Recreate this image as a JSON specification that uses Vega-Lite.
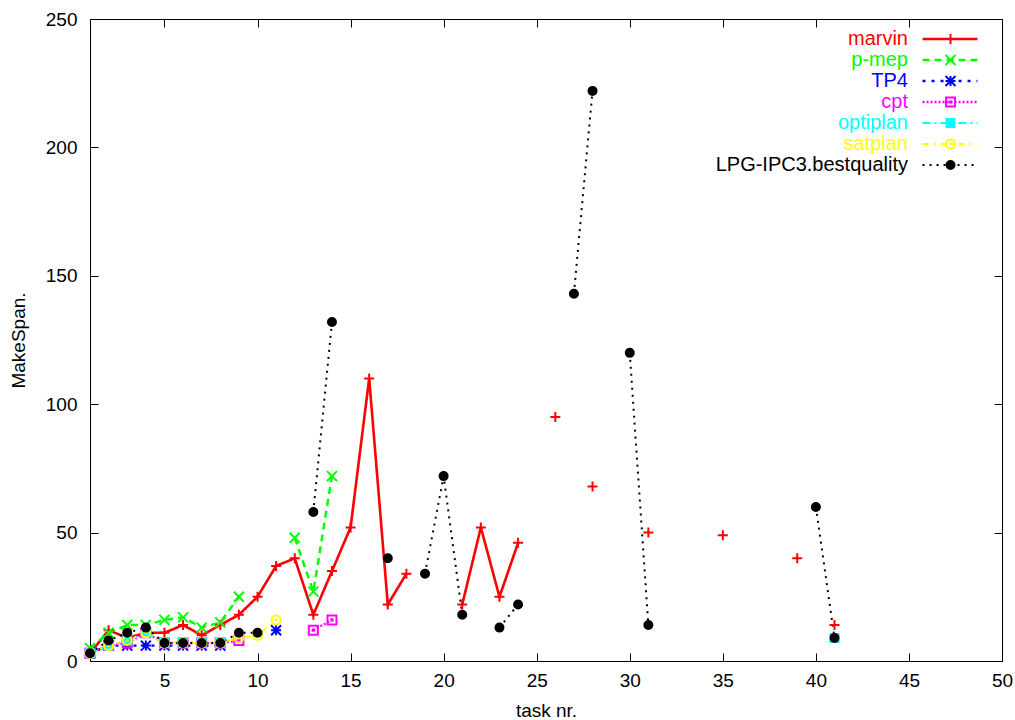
{
  "$schema": "https://vega.github.io/schema/vega-lite/v6.json",
  "width": 912,
  "height": 642,
  "autosize": "none",
  "padding": {"left": 90, "top": 19, "right": 13, "bottom": 59},
  "background": "white",
  "config": {
    "font": "Liberation Sans",
    "view": {"stroke": "black", "strokeWidth": 1},
    "mark": {"invalid": "break-paths-filter-domains"},
    "axis": {"domain": false, "grid": false, "tickColor": "black", "tickSize": -8, "tickWidth": 1,
      "labelFont": "Liberation Sans", "labelFontSize": 19, "labelColor": "black",
      "titleFont": "Liberation Sans", "titleFontSize": 19, "titleFontWeight": "normal", "titleColor": "black"},
    "legend": {"labelFont": "Liberation Sans", "labelFontSize": 20, "labelLimit": 400}
  },
  "data": {"values": [
    {"task": 1, "planner": "marvin", "makespan": 3},
    {"task": 2, "planner": "marvin", "makespan": 12},
    {"task": 3, "planner": "marvin", "makespan": 9},
    {"task": 4, "planner": "marvin", "makespan": 11},
    {"task": 5, "planner": "marvin", "makespan": 11},
    {"task": 6, "planner": "marvin", "makespan": 14},
    {"task": 7, "planner": "marvin", "makespan": 10},
    {"task": 8, "planner": "marvin", "makespan": 14},
    {"task": 9, "planner": "marvin", "makespan": 18},
    {"task": 10, "planner": "marvin", "makespan": 25},
    {"task": 11, "planner": "marvin", "makespan": 37},
    {"task": 12, "planner": "marvin", "makespan": 40},
    {"task": 13, "planner": "marvin", "makespan": 18},
    {"task": 14, "planner": "marvin", "makespan": 35},
    {"task": 15, "planner": "marvin", "makespan": 52},
    {"task": 16, "planner": "marvin", "makespan": 110},
    {"task": 17, "planner": "marvin", "makespan": 22},
    {"task": 18, "planner": "marvin", "makespan": 34},
    {"task": 19, "planner": "marvin", "makespan": null},
    {"task": 21, "planner": "marvin", "makespan": 22},
    {"task": 22, "planner": "marvin", "makespan": 52},
    {"task": 23, "planner": "marvin", "makespan": 25},
    {"task": 24, "planner": "marvin", "makespan": 46},
    {"task": 25, "planner": "marvin", "makespan": null},
    {"task": 26, "planner": "marvin", "makespan": 95},
    {"task": 27, "planner": "marvin", "makespan": null},
    {"task": 28, "planner": "marvin", "makespan": 68},
    {"task": 29, "planner": "marvin", "makespan": null},
    {"task": 31, "planner": "marvin", "makespan": 50},
    {"task": 32, "planner": "marvin", "makespan": null},
    {"task": 35, "planner": "marvin", "makespan": 49},
    {"task": 36, "planner": "marvin", "makespan": null},
    {"task": 39, "planner": "marvin", "makespan": 40},
    {"task": 40, "planner": "marvin", "makespan": null},
    {"task": 41, "planner": "marvin", "makespan": 14},
    {"task": 1, "planner": "p-mep", "makespan": 5},
    {"task": 2, "planner": "p-mep", "makespan": 11},
    {"task": 3, "planner": "p-mep", "makespan": 14},
    {"task": 4, "planner": "p-mep", "makespan": 14},
    {"task": 5, "planner": "p-mep", "makespan": 16},
    {"task": 6, "planner": "p-mep", "makespan": 17},
    {"task": 7, "planner": "p-mep", "makespan": 13},
    {"task": 8, "planner": "p-mep", "makespan": 15},
    {"task": 9, "planner": "p-mep", "makespan": 25},
    {"task": 10, "planner": "p-mep", "makespan": null},
    {"task": 12, "planner": "p-mep", "makespan": 48},
    {"task": 13, "planner": "p-mep", "makespan": 27},
    {"task": 14, "planner": "p-mep", "makespan": 72},
    {"task": 1, "planner": "TP4", "makespan": 3},
    {"task": 2, "planner": "TP4", "makespan": 6},
    {"task": 3, "planner": "TP4", "makespan": 6},
    {"task": 4, "planner": "TP4", "makespan": 6},
    {"task": 5, "planner": "TP4", "makespan": 6},
    {"task": 6, "planner": "TP4", "makespan": 6},
    {"task": 7, "planner": "TP4", "makespan": 6},
    {"task": 8, "planner": "TP4", "makespan": 6},
    {"task": 9, "planner": "TP4", "makespan": null},
    {"task": 11, "planner": "TP4", "makespan": 12},
    {"task": 1, "planner": "cpt", "makespan": 3},
    {"task": 2, "planner": "cpt", "makespan": 6},
    {"task": 3, "planner": "cpt", "makespan": 7},
    {"task": 4, "planner": "cpt", "makespan": 11},
    {"task": 5, "planner": "cpt", "makespan": 7},
    {"task": 6, "planner": "cpt", "makespan": 7},
    {"task": 7, "planner": "cpt", "makespan": 7},
    {"task": 8, "planner": "cpt", "makespan": 7},
    {"task": 9, "planner": "cpt", "makespan": 8},
    {"task": 10, "planner": "cpt", "makespan": null},
    {"task": 13, "planner": "cpt", "makespan": 12},
    {"task": 14, "planner": "cpt", "makespan": 16},
    {"task": 1, "planner": "optiplan", "makespan": 3},
    {"task": 2, "planner": "optiplan", "makespan": 6},
    {"task": 3, "planner": "optiplan", "makespan": 8},
    {"task": 4, "planner": "optiplan", "makespan": 11},
    {"task": 5, "planner": "optiplan", "makespan": 7},
    {"task": 6, "planner": "optiplan", "makespan": 7},
    {"task": 7, "planner": "optiplan", "makespan": 7},
    {"task": 8, "planner": "optiplan", "makespan": 7},
    {"task": 9, "planner": "optiplan", "makespan": null},
    {"task": 41, "planner": "optiplan", "makespan": 9},
    {"task": 1, "planner": "satplan", "makespan": 3},
    {"task": 2, "planner": "satplan", "makespan": 6},
    {"task": 3, "planner": "satplan", "makespan": 8},
    {"task": 4, "planner": "satplan", "makespan": 11},
    {"task": 5, "planner": "satplan", "makespan": 7},
    {"task": 6, "planner": "satplan", "makespan": 7},
    {"task": 7, "planner": "satplan", "makespan": 7},
    {"task": 8, "planner": "satplan", "makespan": 7},
    {"task": 9, "planner": "satplan", "makespan": 9},
    {"task": 10, "planner": "satplan", "makespan": 10},
    {"task": 11, "planner": "satplan", "makespan": 16},
    {"task": 1, "planner": "LPG-IPC3.bestquality", "makespan": 3},
    {"task": 2, "planner": "LPG-IPC3.bestquality", "makespan": 8},
    {"task": 3, "planner": "LPG-IPC3.bestquality", "makespan": 11},
    {"task": 4, "planner": "LPG-IPC3.bestquality", "makespan": 13},
    {"task": 5, "planner": "LPG-IPC3.bestquality", "makespan": 7},
    {"task": 6, "planner": "LPG-IPC3.bestquality", "makespan": 7},
    {"task": 7, "planner": "LPG-IPC3.bestquality", "makespan": 7},
    {"task": 8, "planner": "LPG-IPC3.bestquality", "makespan": 7},
    {"task": 9, "planner": "LPG-IPC3.bestquality", "makespan": 11},
    {"task": 10, "planner": "LPG-IPC3.bestquality", "makespan": 11},
    {"task": 11, "planner": "LPG-IPC3.bestquality", "makespan": null},
    {"task": 13, "planner": "LPG-IPC3.bestquality", "makespan": 58},
    {"task": 14, "planner": "LPG-IPC3.bestquality", "makespan": 132},
    {"task": 15, "planner": "LPG-IPC3.bestquality", "makespan": null},
    {"task": 17, "planner": "LPG-IPC3.bestquality", "makespan": 40},
    {"task": 18, "planner": "LPG-IPC3.bestquality", "makespan": null},
    {"task": 19, "planner": "LPG-IPC3.bestquality", "makespan": 34},
    {"task": 20, "planner": "LPG-IPC3.bestquality", "makespan": 72},
    {"task": 21, "planner": "LPG-IPC3.bestquality", "makespan": 18},
    {"task": 22, "planner": "LPG-IPC3.bestquality", "makespan": null},
    {"task": 23, "planner": "LPG-IPC3.bestquality", "makespan": 13},
    {"task": 24, "planner": "LPG-IPC3.bestquality", "makespan": 22},
    {"task": 25, "planner": "LPG-IPC3.bestquality", "makespan": null},
    {"task": 27, "planner": "LPG-IPC3.bestquality", "makespan": 143},
    {"task": 28, "planner": "LPG-IPC3.bestquality", "makespan": 222},
    {"task": 29, "planner": "LPG-IPC3.bestquality", "makespan": null},
    {"task": 30, "planner": "LPG-IPC3.bestquality", "makespan": 120},
    {"task": 31, "planner": "LPG-IPC3.bestquality", "makespan": 14},
    {"task": 32, "planner": "LPG-IPC3.bestquality", "makespan": null},
    {"task": 40, "planner": "LPG-IPC3.bestquality", "makespan": 60},
    {"task": 41, "planner": "LPG-IPC3.bestquality", "makespan": 9}
  ]},
  "layer": [
    {
      "mark": {"type": "line", "strokeCap": "butt"},
      "encoding": {
        "x": {"field": "task", "type": "quantitative", "scale": {"domain": [1, 50], "nice": false, "zero": false},
          "axis": {"orient": "bottom", "values": [5, 10, 15, 20, 25, 30, 35, 40, 45, 50], "title": "task nr.", "labelPadding": 18, "titlePadding": 11, "labelFlush": false}},
        "y": {"field": "makespan", "type": "quantitative", "scale": {"domain": [0, 250], "nice": false},
          "axis": {"orient": "left", "values": [0, 50, 100, 150, 200, 250], "title": "MakeSpan.", "labelPadding": 21, "titlePadding": 17, "labelFlush": false}},
        "stroke": {"field": "planner", "type": "nominal",
          "scale": {"domain": ["marvin", "p-mep", "TP4", "cpt", "optiplan", "satplan", "LPG-IPC3.bestquality"],
                    "range": ["#ff0000", "#00ff00", "#0000ff", "#ff00ff", "#00ffff", "#ffff00", "#000000"]},
          "legend": {"title": null, "orient": "none", "legendX": 850, "legendY": 10, "symbolType": "M-3.23,0H3.23", "symbolSize": 289, "symbolStrokeWidth": 2, "labelAlign": "right", "labelOffset": -52, "labelFontSize": 20, "labelLimit": 400, "rowPadding": 1,
            "labelColor": {"expr": "datum.value === 'marvin' ? '#ff0000' : datum.value === 'p-mep' ? '#00ff00' : datum.value === 'TP4' ? '#0000ff' : datum.value === 'cpt' ? '#ff00ff' : datum.value === 'optiplan' ? '#00ffff' : datum.value === 'satplan' ? '#ffff00' : '#000000'"}}},
        "strokeDash": {"field": "planner", "type": "nominal",
          "scale": {"domain": ["marvin", "p-mep", "TP4", "cpt", "optiplan", "satplan", "LPG-IPC3.bestquality"],
                    "range": [[1, 0], [7, 5], [3, 6], [2, 2], [8, 4, 2, 4], [6, 5, 2, 5], [2, 5]]},
          "legend": {"title": null, "orient": "none", "legendX": 850, "legendY": 10, "symbolType": "M-3.23,0H3.23", "symbolSize": 289, "symbolStrokeWidth": 2, "labelAlign": "right", "labelOffset": -52, "labelFontSize": 20, "labelLimit": 400, "rowPadding": 1,
            "labelColor": {"expr": "datum.value === 'marvin' ? '#ff0000' : datum.value === 'p-mep' ? '#00ff00' : datum.value === 'TP4' ? '#0000ff' : datum.value === 'cpt' ? '#ff00ff' : datum.value === 'optiplan' ? '#00ffff' : datum.value === 'satplan' ? '#ffff00' : '#000000'"}}},
        "strokeWidth": {"field": "planner", "type": "ordinal",
          "scale": {"domain": ["marvin", "p-mep", "TP4", "cpt", "optiplan", "satplan", "LPG-IPC3.bestquality"],
                    "range": [2.6, 2, 2, 2, 2, 2, 2.2]},
          "legend": null}
      }
    },
    {
      "mark": {"type": "point", "filled": false, "strokeWidth": 2, "size": 100, "opacity": 1},
      "encoding": {
        "x": {"field": "task", "type": "quantitative", "scale": {"domain": [1, 50], "nice": false, "zero": false},
          "axis": {"orient": "top", "values": [5, 10, 15, 20, 25, 30, 35, 40, 45, 50], "labels": false, "title": null}},
        "y": {"field": "makespan", "type": "quantitative", "scale": {"domain": [0, 250], "nice": false},
          "axis": {"orient": "right", "values": [0, 50, 100, 150, 200, 250], "labels": false, "title": null}},
        "color": {"field": "planner", "type": "nominal", "sort": null,
          "scale": {"range": ["#ff0000", "#00ff00", "#0000ff", "#ff00ff", "#00ffff", "#ffff00", "#000000"]},
          "legend": {"title": null, "orient": "none", "legendX": 850.5, "legendY": 10, "symbolSize": 100, "symbolStrokeWidth": 2, "labelColor": "transparent", "labelFontSize": 20, "labelExpr": "' '", "rowPadding": 1,
            "encode": {"symbols": {"fill": {"condition": [
              {"test": "datum.value === 'optiplan'", "value": "#00ffff"},
              {"test": "datum.value === 'LPG-IPC3.bestquality'", "value": "#000000"}], "value": "transparent"}}}}},
        "shape": {"field": "planner", "type": "nominal", "sort": null,
          "scale": {"range": [
            "M-1,0H1M0,-1V1",
            "M-1,-1L1,1M-1,1L1,-1",
            "M-1,-1L1,1M-1,1L1,-1M-1,0H1M0,-1V1",
            "M-0.9,-0.9H0.9V0.9H-0.9ZM-0.12,-0.12H0.12V0.12H-0.12Z",
            "M-0.8,-0.8H0.8V0.8H-0.8Z",
            "M-0.9,0A0.9,0.9,0,1,0,0.9,0A0.9,0.9,0,1,0,-0.9,0ZM-0.12,0A0.12,0.12,0,1,0,0.12,0A0.12,0.12,0,1,0,-0.12,0Z",
            "M-0.8,0A0.8,0.8,0,1,0,0.8,0A0.8,0.8,0,1,0,-0.8,0Z"]},
          "legend": {"title": null, "orient": "none", "legendX": 850.5, "legendY": 10, "symbolSize": 100, "symbolStrokeWidth": 2, "labelColor": "transparent", "labelFontSize": 20, "labelExpr": "' '", "rowPadding": 1,
            "encode": {"symbols": {"fill": {"condition": [
              {"test": "datum.value === 'optiplan'", "value": "#00ffff"},
              {"test": "datum.value === 'LPG-IPC3.bestquality'", "value": "#000000"}], "value": "transparent"}}}}},
        "fill": {"field": "planner", "type": "nominal", "sort": null,
          "scale": {"range": ["transparent", "transparent", "transparent", "transparent", "#00ffff", "transparent", "#000000"]},
          "legend": null}
      }
    }
  ],
  "resolve": {"axis": {"x": "independent", "y": "independent"}}
}
